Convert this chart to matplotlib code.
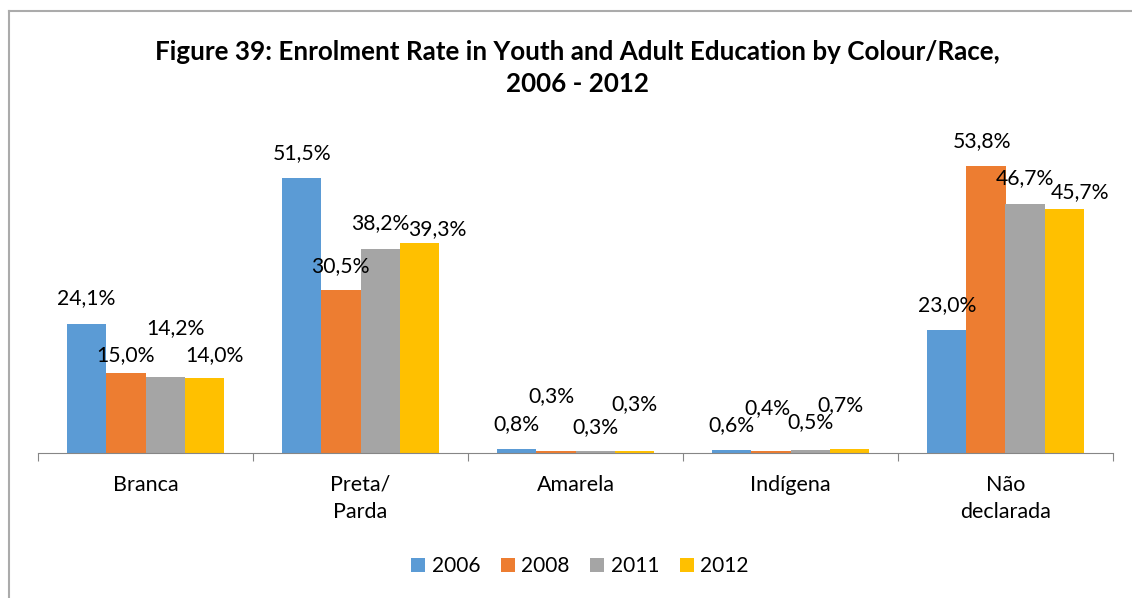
import matplotlib
matplotlib.use("Agg")
import matplotlib.pyplot as plt
from matplotlib.lines import Line2D
from matplotlib.patches import Patch
import numpy as np

plt.rcParams['font.family'] = ['Lato', 'DejaVu Sans']

categories = ["Branca", "Preta/\nParda", "Amarela", "Indígena", "Não\ndeclarada"]
years = ["2006", "2008", "2011", "2012"]
v2006 = [24.1, 51.5, 0.8, 0.6, 23.0]
v2008 = [15.0, 30.5, 0.3, 0.4, 53.8]
v2011 = [14.2, 38.2, 0.3, 0.5, 46.7]
v2012 = [14.0, 39.3, 0.3, 0.7, 45.7]
series = [v2006, v2008, v2011, v2012]
colors = ["#5B9BD5", "#ED7D31", "#A5A5A5", "#FFC000"]

# label offsets in pixels (dx, dy above bar top) per series, per category
label_off = [
    [(0, 26), (0, 25), (0, 25), (0, 25), (1, 25)],
    [(0, 18), (-1, 24), (-4, 55), (-3, 43), (-4, 25)],
    [(10, 49), (0, 26), (0, 24), (0, 28), (0, 26)],
    [(10, 23), (18, 14), (0, 47), (-9, 44), (16, 17)],
]

W, H = 1132, 598
fig = plt.figure(figsize=(W / 100, H / 100), dpi=100)
ax_left, ax_right = 38, 1113
base_y, top_y = 453, 133
ax = fig.add_axes([ax_left / W, (H - base_y) / H, (ax_right - ax_left) / W, (base_y - top_y) / H])

n = len(categories)
x = np.arange(n)
bw = 0.1825
for i, (vals, c) in enumerate(zip(series, colors)):
    pos = x + (i - 1.5) * bw
    ax.bar(pos, vals, width=bw, color=c, edgecolor='none', zorder=2)
    for j, v in enumerate(vals):
        dx, dy = label_off[i][j]
        ax.annotate(f"{v:.1f}%".replace('.', ','), xy=(pos[j], v),
                    xytext=(dx * 0.72, dy * 0.72), textcoords='offset points',
                    ha='center', va='center', fontsize=15.2, color='#000000')

ax.set_xlim(-0.5, n - 0.5)
ax.set_ylim(0, 60)
for s in ['top', 'right', 'left']:
    ax.spines[s].set_visible(False)
ax.spines['bottom'].set_color('#868686')
ax.set_yticks([])
ax.set_xticks(np.arange(-0.5, n, 1.0), minor=False)
ax.set_xticklabels([])
ax.tick_params(axis='x', length=6, color='#868686', direction='out')
for j, cat in enumerate(categories):
    ax.text(x[j], -0.068, cat, transform=ax.get_xaxis_transform(), ha='center', va='top',
            fontsize=15.5, linespacing=1.45)

fig.text(577 / W, 1 - 68 / H, "Figure 39: Enrolment Rate in Youth and Adult Education by Colour/Race,\n2006 - 2012",
         ha='center', va='center', fontsize=18.7, fontweight='bold', linespacing=1.45)

handles = [Patch(facecolor=c, edgecolor='none') for c in colors]
fig.legend(handles, years, loc='center', bbox_to_anchor=(580 / W, 1 - 566 / H), ncol=4,
           frameon=False, fontsize=15, handlelength=0.67, handleheight=0.67,
           handletextpad=0.3, columnspacing=1.0)

# chart border (left and top edges)
fig.add_artist(Line2D([9 / W, 9 / W], [0, 1 - 11 / H], transform=fig.transFigure, color='#ABABAB', lw=1.5))
fig.add_artist(Line2D([9 / W, 1], [1 - 11 / H, 1 - 11 / H], transform=fig.transFigure, color='#ABABAB', lw=1.5))

fig.savefig("out.png", dpi=100)
